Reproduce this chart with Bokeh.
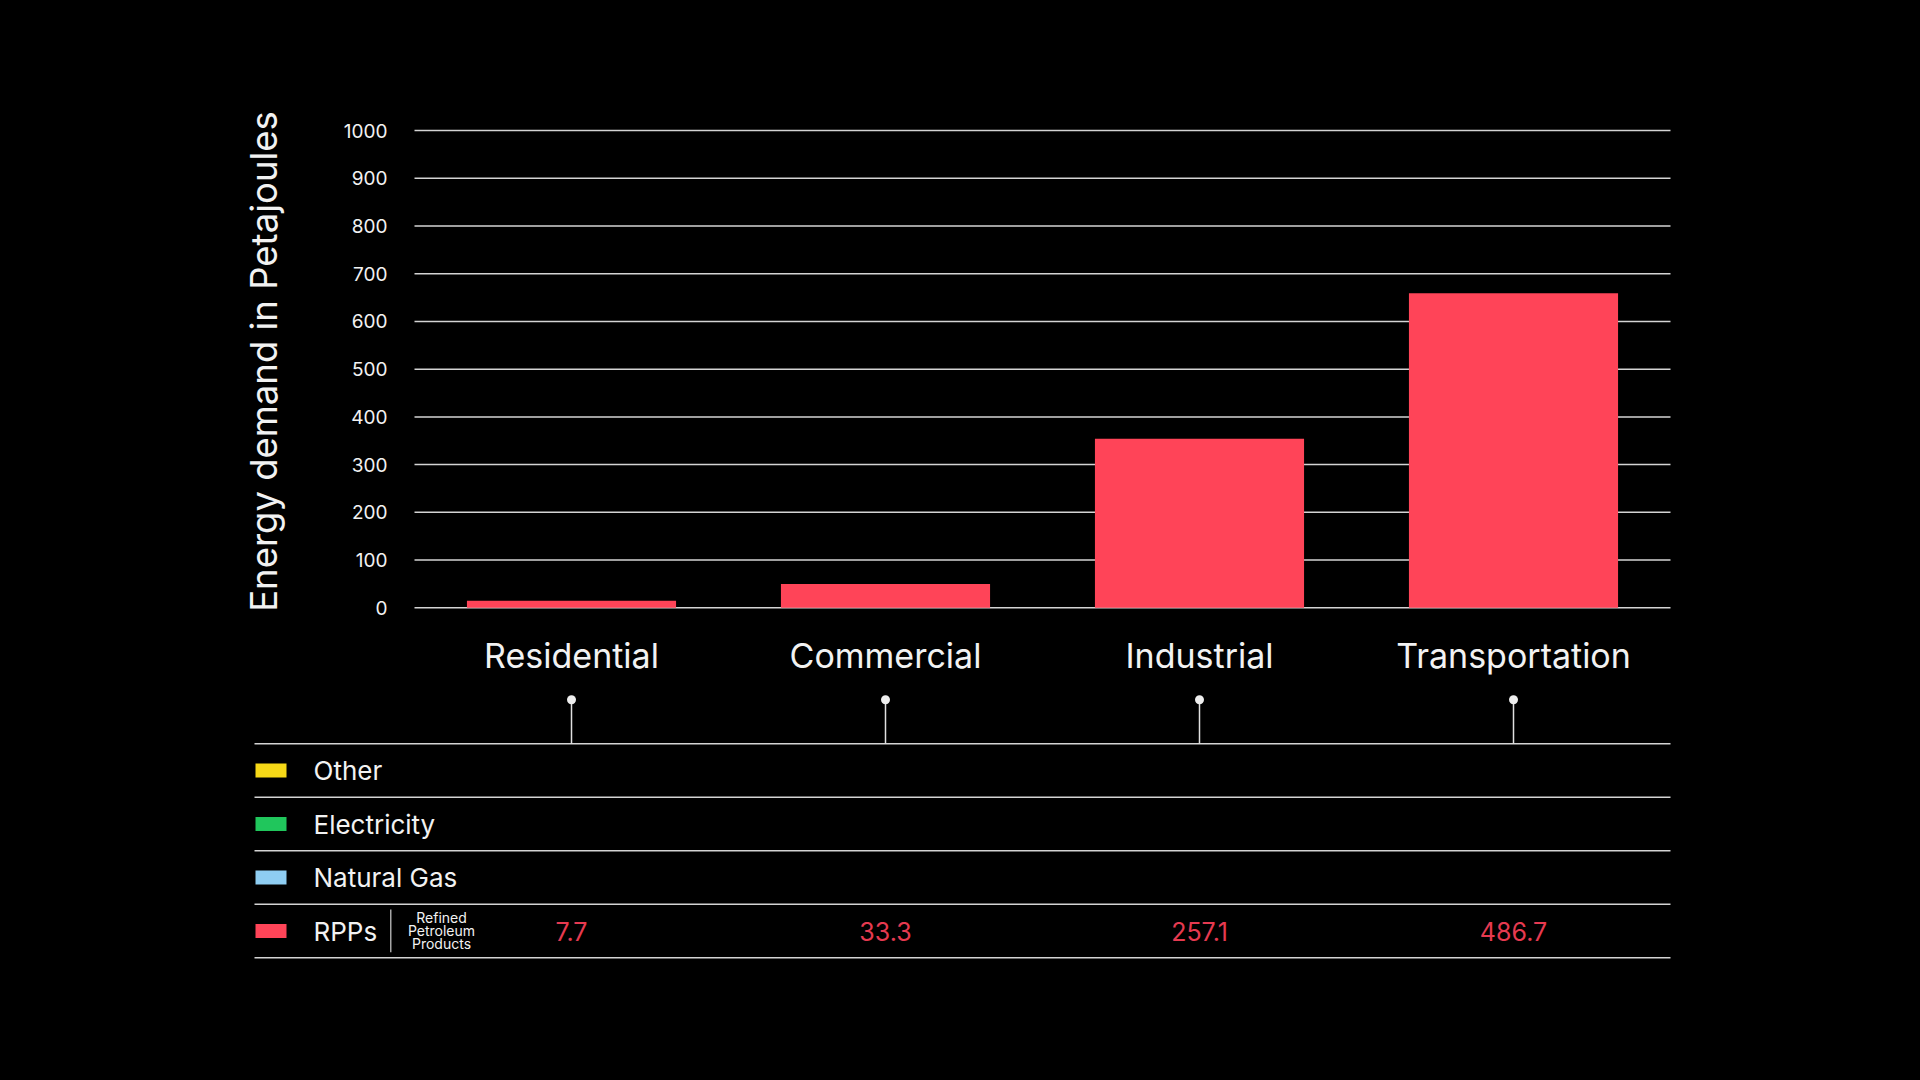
import math
from bokeh.plotting import figure
from bokeh.models import Range1d
from bokeh.core.properties import value
from bokeh.embed import file_html
from bokeh.resources import INLINE

# ---------------- data ----------------
categories = ["Residential", "Commercial", "Industrial", "Transportation"]
rpp_bar_heights = [15, 50, 354, 659]          # bar heights as drawn (PJ scale)
rpp_value_labels = ["7.7", "33.3", "257.1", "486.7"]
series_names = ["Other", "Electricity", "Natural Gas", "RPPs"]
series_colors = ["#f7d917", "#20c65c", "#8ecdf2", "#ff4458"]
y_ticks = [0, 100, 200, 300, 400, 500, 600, 700, 800, 900, 1000]
y_tick_labels = [str(t) for t in y_ticks]
rpp_note = ["Refined", "Petroleum", "Products"]
y_title = "Energy demand in Petajoules"

FONT = "Inter"
WHITE = "#f2f2f2"
GRID = "#d4d4d4"
BAR = "#ff4458"
VAL = "#e63a50"
BG = "black"

# ---------------- geometry (page pixels) ----------------
CAT_PX = 314.0          # px per category
FRAME_L, FRAME_R, FRAME_T, FRAME_B = 200, 1690, 90, 985
TABLE_L = 254           # left of the table lines
CHART_L = 414           # left of the bar area
ZERO_Y = 607.3          # pixel row of value 0
PX_PER_PJ = 0.4773
ROW0_Y = 743.3          # first table line
ROW_PX = 53.5

x0 = -(CHART_L - FRAME_L) / CAT_PX
x1 = (FRAME_R - CHART_L) / CAT_PX
y_end = (ZERO_Y - FRAME_T) / PX_PER_PJ
y_start = -(FRAME_B - ZERO_Y) / PX_PER_PJ
r_end = (ROW0_Y - FRAME_T) / ROW_PX
r_start = -(FRAME_B - ROW0_Y) / ROW_PX

def xpx(px):
    return (px - CHART_L) / CAT_PX

def ypj(px):
    return (ZERO_Y - px) / PX_PER_PJ

def yrow(px):
    return (ROW0_Y - px) / ROW_PX

p = figure(x_range=Range1d(x0, x1), y_range=Range1d(y_start, y_end),
           frame_width=FRAME_R - FRAME_L, frame_height=FRAME_B - FRAME_T,
           min_border_left=FRAME_L, min_border_right=1920 - FRAME_R,
           min_border_top=FRAME_T, min_border_bottom=1080 - FRAME_B,
           x_axis_type=None, y_axis_type=None,
           output_backend="svg", toolbar_location=None)
p.extra_y_ranges = {"rows": Range1d(r_start, r_end)}
p.background_fill_color = BG
p.border_fill_color = BG
p.outline_line_color = None
p.grid.grid_line_color = None

n = len(categories)
cx = [i + 0.5 for i in range(n)]

# gridlines of the bar chart
p.segment(x0=[0] * len(y_ticks), y0=y_ticks, x1=[n] * len(y_ticks), y1=y_ticks,
          line_color=GRID, line_width=1.5)

# bars
p.vbar(x=cx, top=rpp_bar_heights, bottom=0, width=0.666, color=BAR, line_color=None)

# y tick labels
p.text(x=[xpx(387)] * len(y_ticks), y=y_ticks, text=y_tick_labels,
       text_font=value(FONT), text_font_size="19px", text_color=WHITE,
       text_align="right", text_baseline="middle")

# y title
p.text(x=[xpx(263)], y=[ypj(361)], text=[y_title], angle=math.pi / 2,
       text_font=value(FONT), text_font_size="36.5px", text_color=WHITE,
       text_align="center", text_baseline="middle")

# category labels
p.text(x=cx, y=[ypj(654.5)] * n, text=categories,
       text_font=value(FONT), text_font_size="34px", text_color=WHITE,
       text_align="center", text_baseline="alphabetic")

# table lines
row_lines = [0, -1, -2, -3, -4]
p.segment(x0=[xpx(TABLE_L)] * 5, y0=row_lines, x1=[n] * 5, y1=row_lines,
          line_color=GRID, line_width=1.5, y_range_name="rows")

# dots and stems
dot_y = yrow(699.3)
p.segment(x0=cx, y0=[dot_y] * n, x1=cx, y1=[0] * n, line_color="#e0e0e0",
          line_width=1.5, y_range_name="rows")
p.scatter(x=cx, y=[dot_y] * n, size=9, color="#eeeeee", line_color=None,
          y_range_name="rows")

# legend swatches and names
row_c = [-(i + 0.5) for i in range(len(series_names))]
p.rect(x=[xpx(270.5)] * 4, y=row_c, width=31, height=14,
       width_units="screen", height_units="screen",
       fill_color=series_colors, line_color=None, y_range_name="rows")
p.text(x=[xpx(313)] * 4, y=row_c, text=series_names,
       text_font=value(FONT), text_font_size="26px", text_color=WHITE,
       text_baseline="middle", text_align="left", y_range_name="rows")

# separator and note in the RPPs row
p.segment(x0=[xpx(390.3)], y0=[yrow(909)], x1=[xpx(390.3)], y1=[yrow(951.7)],
          line_color="#d0d0d0", line_width=1.2, y_range_name="rows")
p.text(x=[xpx(441)] * 3, y=[yrow(917), yrow(930), yrow(943)], text=rpp_note,
       text_font=value(FONT), text_font_size="14px", text_color=WHITE,
       text_baseline="middle", text_align="center", y_range_name="rows")

# RPP values
p.text(x=cx, y=[row_c[3]] * n, text=rpp_value_labels,
       text_font=value(FONT), text_font_size="25px", text_color=VAL,
       text_baseline="middle", text_align="center", y_range_name="rows")

html = file_html(p, INLINE)
html = html.replace("<head>", "<head><style>html,body{background:#000;margin:0;}</style>", 1)
open("out.html", "w").write(html)
